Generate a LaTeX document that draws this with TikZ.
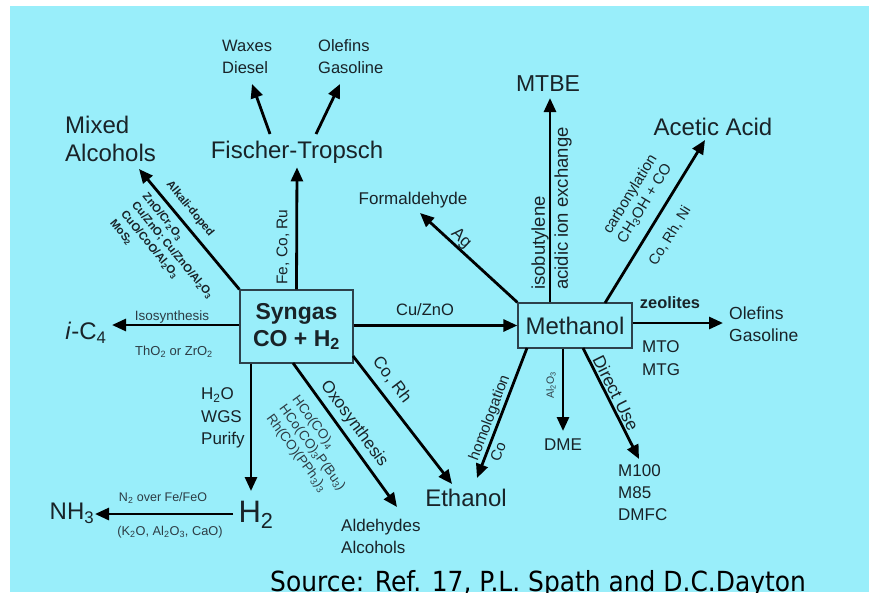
\documentclass[tikz,border=0pt]{standalone}
\usepackage{fontspec}
\setmainfont{Liberation Sans}
\newfontfamily\srcfont{DejaVu Sans}[FakeStretch=0.9]
\usetikzlibrary{arrows.meta}
\definecolor{bg}{RGB}{153,238,250}
\definecolor{txt}{RGB}{25,35,40}
\definecolor{txtb}{RGB}{45,60,68}
\definecolor{boxc}{RGB}{45,65,75}
\newcommand{\fsz}[2]{\fontsize{#1}{#2}\selectfont}
\newcommand{\sbs}[1]{\textsubscript{#1}}
\begin{document}
\begin{tikzpicture}[x=1pt,y=-1pt,
  every node/.style={inner sep=0pt,text=txt},
  arr/.style={line width=2.8pt,draw=black,-{Triangle[length=14pt,width=12pt]}},
  box/.style={draw=boxc,line width=1.3pt,fill=bg,inner sep=0pt},
  big/.style={font=\fsz{24}{28}},
  lab/.style={font=\fsz{17}{22}},
  sm/.style={font=\fsz{13}{16},text=txtb},
  cat/.style={font=\bfseries\fsz{11.3}{14}}]
\useasboundingbox (0,0) rectangle (869,592);
\fill[white] (0,0) rectangle (869,592);
\fill[bg] (10,6) rectangle (869,592);

% boxes
\node[box,minimum width=113pt,minimum height=73pt,align=center,font=\bfseries\fsz{23}{27}] (syn) at (296.5,326.5) {Syngas\\CO + H\sbs{2}};
\node[box,minimum width=114pt,minimum height=45pt,font=\fsz{24}{28}] (meth) at (575,325.5) {Methanol};

% products
\node[big] (ft) at (297,152) {Fischer-Tropsch};
\node[lab,font=\fsz{16.5}{22},align=left,anchor=west] (wax) at (222,57) {Waxes\\Diesel};
\node[lab,font=\fsz{16.5}{22},align=left,anchor=west] (olf1) at (318,57) {Olefins\\Gasoline};
\node[big,align=left,anchor=west] (mix) at (65,139) {Mixed\\Alcohols};
\node[big] (ic4) at (86,333) {\textit{i}-C\sbs{4}};
\node[font=\fsz{31}{34}] (h2) at (256,515) {H\sbs{2}};
\node[big] (nh3) at (72,513) {NH\sbs{3}};
\node[lab,align=left,anchor=west] (ald) at (341,536) {Aldehydes\\Alcohols};
\node[big] (eth) at (466,498) {Ethanol};
\node[lab] (dme) at (563,445) {DME};
\node[lab,align=left,anchor=west] (mfuel) at (618,493) {M100\\M85\\DMFC};
\node[lab,font=\fsz{17.5}{22},align=left,anchor=west] (olf2) at (729,324) {Olefins\\Gasoline};
\node[lab] (form) at (413,200) {Formaldehyde};
\node[font=\fsz{23}{28}] (mtbe) at (548,84) {MTBE};
\node[big] (acet) at (713,127) {Acetic Acid};

% arrow end coordinates
\coordinate (w0) at (270,134); \coordinate (w1) at (252,84);
\coordinate (g0) at (316,134); \coordinate (g1) at (340,84);
\coordinate (m1) at (139,169);
\coordinate (c1) at (112,325);
\coordinate (h1) at (251,491);
\coordinate (n0) at (233,514); \coordinate (n1) at (95,514);
\coordinate (o0) at (293,363); \coordinate (o1) at (397,507);
\coordinate (e0) at (353,356); \coordinate (e1) at (452,484);
\coordinate (d1) at (563,431);
\coordinate (u0) at (583,348); \coordinate (u1) at (639,459);
\coordinate (z1) at (723,323);
\coordinate (f1) at (420,213);
\coordinate (b1) at (550,98);
\coordinate (a0) at (605,303); \coordinate (a1) at (705,140);
\coordinate (q0) at (527,348); \coordinate (q1) at (477,478);

% connectors
\draw[arr] (syn.east |- meth.west) -- (meth.west);
\draw[arr, shorten >=4pt] (syn.north) -- (ft.south);
\draw[arr] (w0) -- (w1);
\draw[arr] (g0) -- (g1);
\draw[arr] (syn.north west) -- (m1);
\draw[arr] (syn.west |- c1) -- (c1);
\draw[arr] (syn.south west -| h1) -- (h1);
\draw[arr] (n0) -- (n1);
\draw[arr] (o0) -- (o1);
\draw[arr] (e0) -- (e1);
\draw[arr] (meth.south -| d1) -- (d1);
\draw[arr] (u0) -- (u1);
\draw[arr] (meth.east |- z1) -- (z1);
\draw[arr] (meth.north west) -- (f1);
\draw[arr] (meth.north -| b1) -- (b1);
\draw[arr] (a0) -- (a1);
\draw[arr] (q0) -- (q1);

% labels
\node[lab,font=\fsz{16.5}{20}] (lcu) at (425,310) {Cu/ZnO};
\node[lab,font=\fsz{15.5}{20},rotate=90] (lfe) at (283,247) {Fe, Co, Ru};
\node[cat,rotate=-50.6] (lalk) at (190,209) {Alkali-doped};
\node[cat,rotate=-50.6,align=left] (lcat) at (167,255) {ZnO/Cr\sbs{2}O\sbs{3}\\Cu/ZnO; Cu/ZnO/Al\sbs{2}O\sbs{3}\\CuO/CoO/Al\sbs{2}O\sbs{3}\\MoS\sbs{2}};
\node[sm,font=\fsz{13.5}{16}] (liso) at (172,317) {Isosynthesis};
\node[sm] (ltho) at (174,352) {ThO\sbs{2} or ZrO\sbs{2}};
\node[lab,align=left,anchor=west,font=\fsz{17}{22.5}] (lwgs) at (201,418) {H\sbs{2}O\\WGS\\Purify};
\node[sm,font=\fsz{12.5}{16}] (ln2) at (163,498) {N\sbs{2} over Fe/FeO};
\node[sm,font=\fsz{12.8}{16}] (lk2o) at (170,532) {(K\sbs{2}O, Al\sbs{2}O\sbs{3}, CaO)};
\node[lab,rotate=-53.8] (loxo) at (354,424) {Oxosynthesis};
\node[sm,font=\fsz{13.5}{16},rotate=-53.8,align=left] (lhco) at (312,448) {HCo(CO)\sbs{4}\\HCo(CO)\sbs{3}P(Bu\sbs{3})\\Rh(CO)(PPh\sbs{3})\sbs{3}};
\node[lab,rotate=-53] (lcorh) at (392,380) {Co, Rh};
\node[lab,font=\fsz{15}{18},rotate=69.3] (lhomo) at (490,418) {homologation};
\node[lab,font=\fsz{15}{18},rotate=69.3] (lco) at (498,452) {Co};
\node[sm,font=\fsz{10.5}{12},rotate=90] (lal) at (551,385) {Al\sbs{2}O\sbs{3}};
\node[lab,font=\fsz{17.5}{22},rotate=-63.4] (ldir) at (616,393) {Direct Use};
\node[font=\bfseries\fsz{16.4}{20}] (lzeo) at (670,303) {zeolites};
\node[lab,align=left,anchor=west,font=\fsz{17}{22.5}] (lmto) at (642,358) {MTO\\MTG};
\node[lab,rotate=-43] (lag) at (461,239) {Ag};
\node[lab,font=\fsz{18.5}{22},rotate=90,anchor=west] (liso2) at (540,290) {isobutylene};
\node[lab,font=\fsz{18.5}{22},rotate=90,anchor=west] (lacid) at (563,290) {acidic ion exchange};
\node[lab,font=\fsz{15}{17},rotate=58.5,align=center] (lcarb) at (637.5,199) {carbonylation\\CH\sbs{3}OH + CO};
\node[lab,font=\fsz{14.5}{17},rotate=58.5] (lni) at (670,236) {Co, Rh, Ni};

% source
\node[font=\srcfont\fsz{27.7}{30},text=black,anchor=base west] (src) at (270,591) {Source: Ref. 17, P.L. Spath and D.C.Dayton};
\end{tikzpicture}
\end{document}
